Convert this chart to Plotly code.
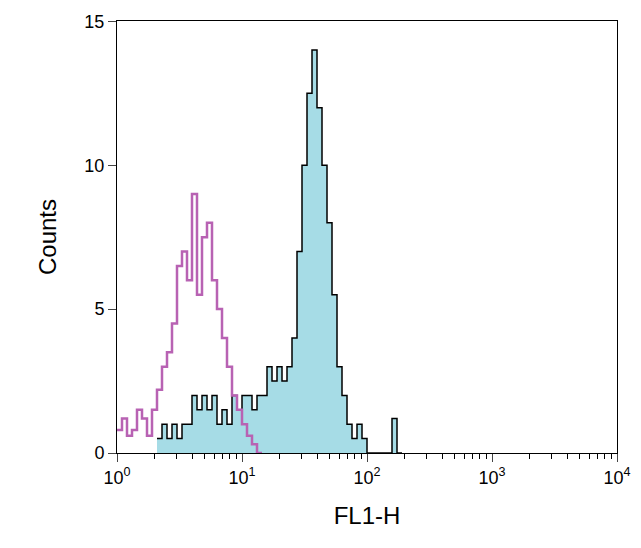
import numpy as np
import plotly.graph_objects as go

# log10(FL1-H) bin starts, width 0.04
mag_start = 0.0
mag_counts = [0.8,1.2,0.6,0.8,1.5,1.2,0.6,1.5,2.2,3,3.5,4.5,6.5,7,6,9,5.5,7.5,8,6,5,4,3,2,1.5,1,0.6,0.3,0]
cyan_start = 0.32
cyan_counts = [0.5,1,0.5,1,0.5,1,1,2,1.5,2,1.5,2,1,1.5,1,2,1.5,2,2,1.5,2,2,3,2.5,3,2.5,3,4,7,10,12.5,14,12,10,8,5.5,3,2,1,0.5,1,0.5,0,0,0,0,0,1.2,0]
w = 0.04

def steps(start, counts):
    xs = [start + i*w for i in range(len(counts))] + [start + len(counts)*w]
    ys = list(counts) + [counts[-1]]
    return xs, ys

fig = go.Figure()
cx, cy = steps(cyan_start, cyan_counts)
fig.add_trace(go.Scatter(x=cx, y=cy, mode="lines", line=dict(shape="hv", color="black", width=1.5),
                         fill="tozeroy", fillcolor="#a6dce6"))
mx, my = steps(mag_start, mag_counts)
fig.add_trace(go.Scatter(x=mx, y=my, mode="lines", line=dict(shape="hv", color="#b862b3", width=2.5)))

minor = [np.log10(k) + d for d in range(4) for k in range(2, 10)]
fig.update_layout(
    width=641, height=548, showlegend=False, plot_bgcolor="white", paper_bgcolor="white",
    margin=dict(l=109, r=32, t=13, b=103),
    font=dict(family="Liberation Sans, Arial", size=18, color="black"),
    xaxis=dict(range=[0, 4], tickvals=[0, 1, 2, 3, 4],
               ticktext=["10<sup>0</sup>", "10<sup>1</sup>", "10<sup>2</sup>", "10<sup>3</sup>", "10<sup>4</sup>"],
               ticks="outside", ticklen=8, showgrid=False, zeroline=False, automargin=False,
               showline=True, linecolor="black", mirror=True,
               minor=dict(tickvals=minor, ticks="outside", ticklen=5, tickcolor="black"),
               title=dict(text="FL1-H", font=dict(size=24), standoff=20)),
    yaxis=dict(range=[0, 15.01], tickvals=[0, 5, 10, 15], ticks="outside", ticklen=8, automargin=False,
               showgrid=False, zeroline=False, showline=True, linecolor="black", mirror=True,
               title=dict(text="Counts", font=dict(size=24), standoff=20)),
)
fig.write_html("out.html")
